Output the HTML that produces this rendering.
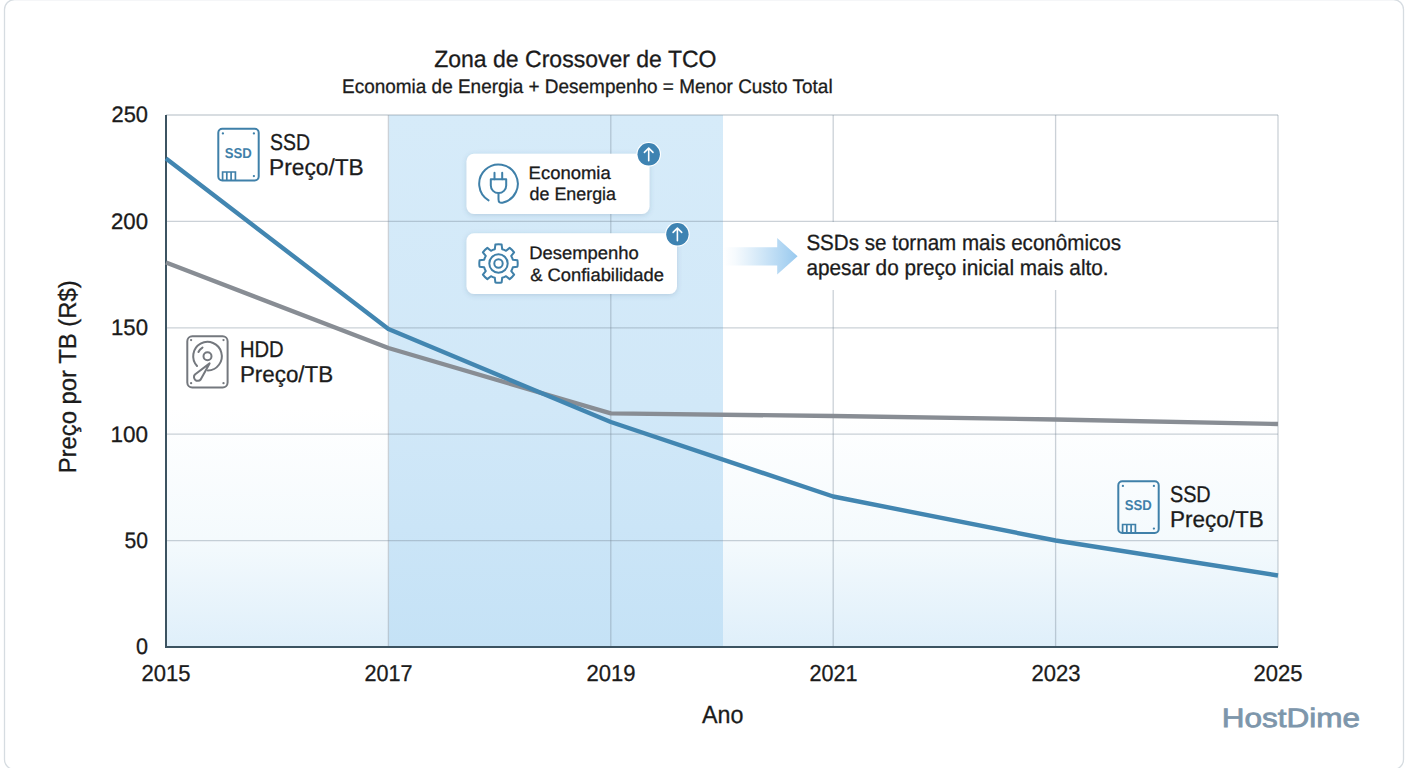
<!DOCTYPE html>
<html><head><meta charset="utf-8"><title>Zona de Crossover de TCO</title>
<style>
html,body{margin:0;padding:0;background:#ffffff;}
body{width:1408px;height:768px;overflow:hidden;position:relative;font-family:"Liberation Sans", sans-serif;}
svg{position:absolute;left:0;top:0;display:block;}
</style></head><body>
<svg width="1408" height="768" viewBox="0 0 1408 768" text-rendering="geometricPrecision">
<defs>
  <linearGradient id="plotbg" x1="0" y1="0" x2="0" y2="1">
    <stop offset="0" stop-color="#ffffff"/>
    <stop offset="0.55" stop-color="#ffffff"/>
    <stop offset="0.8" stop-color="#f4fafd"/>
    <stop offset="1" stop-color="#dfeffa"/>
  </linearGradient>
  <linearGradient id="zone" x1="0" y1="0" x2="0" y2="1">
    <stop offset="0" stop-color="#d6ebf9"/>
    <stop offset="0.55" stop-color="#d1e8f8"/>
    <stop offset="1" stop-color="#c5e2f6"/>
  </linearGradient>
  <linearGradient id="arrowg" x1="0" y1="0" x2="1" y2="0">
    <stop offset="0" stop-color="#a3cff0" stop-opacity="0"/>
    <stop offset="0.15" stop-color="#a3cff0" stop-opacity="0.1"/>
    <stop offset="1" stop-color="#98c9ef" stop-opacity="1"/>
  </linearGradient>
  <filter id="shadow" x="-20%" y="-30%" width="140%" height="160%">
    <feDropShadow dx="0" dy="1.2" stdDeviation="2.4" flood-color="#3a5a78" flood-opacity="0.2"/>
  </filter>
</defs>

<rect x="4.5" y="-0.4" width="1399" height="769.8" rx="10" fill="#ffffff" stroke="#d6dce1" stroke-width="1.3"/>
<rect x="166" y="115" width="1112" height="532" fill="url(#plotbg)"/>
<rect x="389" y="115" width="334" height="532" fill="url(#zone)"/>
<line x1="166" y1="540.6" x2="1278" y2="540.6" stroke="rgba(118,134,150,0.38)" stroke-width="1.3"/>
<line x1="166" y1="434.2" x2="1278" y2="434.2" stroke="rgba(118,134,150,0.38)" stroke-width="1.3"/>
<line x1="166" y1="327.8" x2="1278" y2="327.8" stroke="rgba(118,134,150,0.38)" stroke-width="1.3"/>
<line x1="166" y1="221.4" x2="1278" y2="221.4" stroke="rgba(118,134,150,0.38)" stroke-width="1.3"/>
<line x1="166" y1="115.0" x2="1278" y2="115.0" stroke="rgba(118,134,150,0.38)" stroke-width="1.3"/>
<line x1="388.4" y1="115" x2="388.4" y2="647" stroke="rgba(118,134,150,0.38)" stroke-width="1.3"/>
<line x1="610.8" y1="115" x2="610.8" y2="647" stroke="rgba(118,134,150,0.38)" stroke-width="1.3"/>
<line x1="833.2" y1="115" x2="833.2" y2="647" stroke="rgba(118,134,150,0.38)" stroke-width="1.3"/>
<line x1="1055.6" y1="115" x2="1055.6" y2="647" stroke="rgba(118,134,150,0.38)" stroke-width="1.3"/>
<line x1="1278.0" y1="115" x2="1278.0" y2="647" stroke="rgba(118,134,150,0.38)" stroke-width="1.3"/>
<rect x="790" y="222" width="370" height="68" fill="#ffffff"/>
<path d="M724,247.3 H777.2 V238 L797.6,256.3 L777.2,274.6 V265.6 H724 Z" fill="url(#arrowg)"/>
<line x1="166" y1="115" x2="166" y2="648" stroke="#3c5361" stroke-width="2"/>
<line x1="165" y1="647" x2="1278" y2="647" stroke="#3c5361" stroke-width="2"/>
<polyline points="166.0,262.5 388.4,348.0 610.8,413.4 833.2,416.0 1055.6,419.5 1278.0,424.0" fill="none" stroke="#888d94" stroke-width="4.4" stroke-linejoin="round"/>
<polyline points="166.0,158.5 388.4,329.0 610.8,422.0 833.2,496.5 1055.6,540.5 1278.0,575.5" fill="none" stroke="#4286b1" stroke-width="4.4" stroke-linejoin="round"/>
<g transform="translate(217.3,127.8)" fill="none" stroke="#3f80a9" stroke-width="2">
  <rect x="1" y="1" width="40.4" height="51.6" rx="4"/>
  <path d="M5.3,52.6 V44.2 H18.1 V52.6 M9.5,44.2 V52.6 M13.8,44.2 V52.6" stroke-width="1.7"/>
  <circle cx="5.6" cy="5.6" r="1.15" fill="#3f80a9" stroke="none"/>
  <circle cx="36.6" cy="5.6" r="1.15" fill="#3f80a9" stroke="none"/>
  <circle cx="36.6" cy="48.3" r="1.15" fill="#3f80a9" stroke="none"/>
  <text x="7.5" y="30" font-family='"Liberation Sans", sans-serif' font-weight="bold" font-size="14.2" fill="#3f80a9" stroke="none" textLength="27" lengthAdjust="spacingAndGlyphs">SSD</text>
</g>
<g transform="translate(186,335)" fill="none" stroke="#74787e" stroke-width="2" stroke-linecap="round" stroke-linejoin="round">
  <rect x="1.3" y="1.2" width="40.3" height="51.2" rx="5"/>
  <circle cx="5.1" cy="5.1" r="1.15" fill="#74787e" stroke="none"/>
  <circle cx="37.5" cy="5.1" r="1.15" fill="#74787e" stroke="none"/>
  <circle cx="5.1" cy="48.2" r="1.15" fill="#74787e" stroke="none"/>
  <circle cx="37.5" cy="48.2" r="1.15" fill="#74787e" stroke="none"/>
  <path d="M11.04,30.95 A14.3,14.3 0 1 1 21.87,35.5"/>
  <circle cx="21.5" cy="21.2" r="4"/>
  <path d="M12.44,16.97 A10,10 0 0 1 16.5,12.54"/>
  <path d="M23.6,28.4 L14.67,44.49 A3.8,3.8 0 1 1 8.93,39.51 Z"/>
</g>
<g transform="translate(1117.3,480.3)" fill="none" stroke="#3f80a9" stroke-width="2">
  <rect x="1" y="1" width="40.4" height="51.6" rx="4"/>
  <path d="M5.3,52.6 V44.2 H18.1 V52.6 M9.5,44.2 V52.6 M13.8,44.2 V52.6" stroke-width="1.7"/>
  <circle cx="5.6" cy="5.6" r="1.15" fill="#3f80a9" stroke="none"/>
  <circle cx="36.6" cy="5.6" r="1.15" fill="#3f80a9" stroke="none"/>
  <circle cx="36.6" cy="48.3" r="1.15" fill="#3f80a9" stroke="none"/>
  <text x="7.5" y="30" font-family='"Liberation Sans", sans-serif' font-weight="bold" font-size="14.2" fill="#3f80a9" stroke="none" textLength="27" lengthAdjust="spacingAndGlyphs">SSD</text>
</g>
<rect x="466.5" y="153.7" width="183" height="60.3" rx="7.5" fill="#ffffff" filter="url(#shadow)"/>
<rect x="466.5" y="233.2" width="210.5" height="60.8" rx="7.5" fill="#ffffff" filter="url(#shadow)"/>
<g transform="translate(470,155)" fill="none" stroke="#3f80a9" stroke-width="2" stroke-linecap="round">
  <path d="M18.56,45.34 A19.3,19.3 0 1 1 32.51,47.68 Q28.5,48.6 28.5,44.2 V38"/>
  <path d="M20.8,24.3 H36.2 V30.4 A7.7,7.7 0 0 1 20.8,30.4 Z" stroke-linejoin="round"/>
  <path d="M24.5,17.8 V24.3 M32.2,17.8 V24.3"/>
</g>
<g transform="translate(470,235)" fill="none" stroke="#3f80a9" stroke-width="2" stroke-linejoin="round">
  <path d="M24.84,14.16 L25.35,9.56 A19.2,19.2 0 0 1 31.65,9.56 L32.16,14.16 A14.8,14.8 0 0 1 36.05,15.77 L39.66,12.88 A19.2,19.2 0 0 1 44.12,17.34 L41.23,20.95 A14.8,14.8 0 0 1 42.84,24.84 L47.44,25.35 A19.2,19.2 0 0 1 47.44,31.65 L42.84,32.16 A14.8,14.8 0 0 1 41.23,36.05 L44.12,39.66 A19.2,19.2 0 0 1 39.66,44.12 L36.05,41.23 A14.8,14.8 0 0 1 32.16,42.84 L31.65,47.44 A19.2,19.2 0 0 1 25.35,47.44 L24.84,42.84 A14.8,14.8 0 0 1 20.95,41.23 L17.34,44.12 A19.2,19.2 0 0 1 12.88,39.66 L15.77,36.05 A14.8,14.8 0 0 1 14.16,32.16 L9.56,31.65 A19.2,19.2 0 0 1 9.56,25.35 L14.16,24.84 A14.8,14.8 0 0 1 15.77,20.95 L12.88,17.34 A19.2,19.2 0 0 1 17.34,12.88 L20.95,15.77 A14.8,14.8 0 0 1 24.84,14.16 Z"/>
  <circle cx="28.5" cy="28.5" r="9.2"/>
  <circle cx="28.5" cy="28.5" r="4.2"/>
</g>
<g>
  <circle cx="648.7" cy="154.3" r="12.3" fill="#ffffff"/>
  <circle cx="648.7" cy="154.3" r="11.2" fill="#3e83b2"/>
  <path d="M648.7,160.70000000000002 V148.10000000000002 M644.4000000000001,152.4 L648.7,148.10000000000002 L653.0,152.4" fill="none" stroke="#fff" stroke-width="1.6" stroke-linecap="round" stroke-linejoin="round"/>
</g>
<g>
  <circle cx="677.4" cy="234.3" r="12.3" fill="#ffffff"/>
  <circle cx="677.4" cy="234.3" r="11.2" fill="#3e83b2"/>
  <path d="M677.4,240.70000000000002 V228.10000000000002 M673.1,232.4 L677.4,228.10000000000002 L681.6999999999999,232.4" fill="none" stroke="#fff" stroke-width="1.6" stroke-linecap="round" stroke-linejoin="round"/>
</g>
<text transform="translate(75.7,376.80) rotate(-90)" x="0" y="0" text-anchor="middle" font-family='"Liberation Sans", sans-serif' font-size="24.6" fill="#1b1b1b" stroke="#1b1b1b" stroke-width="0.3" textLength="193.00" lengthAdjust="spacingAndGlyphs">Preço por TB (R$)</text>
<text x="434.20" y="66.8" font-family='"Liberation Sans", sans-serif' font-size="23.5" font-weight="normal" fill="#1b1b1b" stroke="#1b1b1b" stroke-width="0.3" textLength="282.30" lengthAdjust="spacingAndGlyphs">Zona de Crossover de TCO</text>
<text x="342.10" y="92.6" font-family='"Liberation Sans", sans-serif' font-size="19.6" font-weight="normal" fill="#1b1b1b" stroke="#1b1b1b" stroke-width="0.3" textLength="490.50" lengthAdjust="spacingAndGlyphs">Economia de Energia + Desempenho = Menor Custo Total</text>
<text x="702.10" y="722.8" font-family='"Liberation Sans", sans-serif' font-size="24.8" font-weight="normal" fill="#1b1b1b" stroke="#1b1b1b" stroke-width="0.3" textLength="41.40" lengthAdjust="spacingAndGlyphs">Ano</text>
<text x="1221.80" y="727.2" font-family='"Liberation Sans", sans-serif' font-size="26.6" font-weight="normal" fill="#7d96ab" stroke="#7d96ab" stroke-width="0.75" textLength="138.30" lengthAdjust="spacingAndGlyphs">HostDime</text>
<text x="270.10" y="149.7" font-family='"Liberation Sans", sans-serif' font-size="23" font-weight="normal" fill="#1b1b1b" stroke="#1b1b1b" stroke-width="0.3" textLength="40.00" lengthAdjust="spacingAndGlyphs">SSD</text>
<text x="269.10" y="174.9" font-family='"Liberation Sans", sans-serif' font-size="23" font-weight="normal" fill="#1b1b1b" stroke="#1b1b1b" stroke-width="0.3" textLength="94.60" lengthAdjust="spacingAndGlyphs">Preço/TB</text>
<text x="239.90" y="356.6" font-family='"Liberation Sans", sans-serif' font-size="23" font-weight="normal" fill="#1b1b1b" stroke="#1b1b1b" stroke-width="0.3" textLength="43.80" lengthAdjust="spacingAndGlyphs">HDD</text>
<text x="239.90" y="381.6" font-family='"Liberation Sans", sans-serif' font-size="23" font-weight="normal" fill="#1b1b1b" stroke="#1b1b1b" stroke-width="0.3" textLength="93.30" lengthAdjust="spacingAndGlyphs">Preço/TB</text>
<text x="1169.90" y="502.4" font-family='"Liberation Sans", sans-serif' font-size="23" font-weight="normal" fill="#1b1b1b" stroke="#1b1b1b" stroke-width="0.3" textLength="40.80" lengthAdjust="spacingAndGlyphs">SSD</text>
<text x="1169.90" y="527.2" font-family='"Liberation Sans", sans-serif' font-size="23" font-weight="normal" fill="#1b1b1b" stroke="#1b1b1b" stroke-width="0.3" textLength="93.80" lengthAdjust="spacingAndGlyphs">Preço/TB</text>
<text x="528.60" y="178.9" font-family='"Liberation Sans", sans-serif' font-size="18" font-weight="normal" fill="#1b1b1b" stroke="#1b1b1b" stroke-width="0.3" textLength="82.10" lengthAdjust="spacingAndGlyphs">Economia</text>
<text x="529.60" y="200.3" font-family='"Liberation Sans", sans-serif' font-size="18" font-weight="normal" fill="#1b1b1b" stroke="#1b1b1b" stroke-width="0.3" textLength="86.40" lengthAdjust="spacingAndGlyphs">de Energia</text>
<text x="529.20" y="258.9" font-family='"Liberation Sans", sans-serif' font-size="18" font-weight="normal" fill="#1b1b1b" stroke="#1b1b1b" stroke-width="0.3" textLength="109.60" lengthAdjust="spacingAndGlyphs">Desempenho</text>
<text x="530.20" y="280.5" font-family='"Liberation Sans", sans-serif' font-size="18" font-weight="normal" fill="#1b1b1b" stroke="#1b1b1b" stroke-width="0.3" textLength="133.80" lengthAdjust="spacingAndGlyphs">&amp; Confiabilidade</text>
<text x="806.40" y="249.8" font-family='"Liberation Sans", sans-serif' font-size="22" font-weight="normal" fill="#1b1b1b" stroke="#1b1b1b" stroke-width="0.3" textLength="314.60" lengthAdjust="spacingAndGlyphs">SSDs se tornam mais econômicos</text>
<text x="806.40" y="274.5" font-family='"Liberation Sans", sans-serif' font-size="22" font-weight="normal" fill="#1b1b1b" stroke="#1b1b1b" stroke-width="0.3" textLength="302.20" lengthAdjust="spacingAndGlyphs">apesar do preço inicial mais alto.</text>
<text x="136.00" y="654.3" font-family='"Liberation Sans", sans-serif' font-size="22.4" font-weight="normal" fill="#1b1b1b" stroke="#1b1b1b" stroke-width="0.3" textLength="12.00" lengthAdjust="spacingAndGlyphs">0</text>
<text x="124.50" y="547.9" font-family='"Liberation Sans", sans-serif' font-size="22.4" font-weight="normal" fill="#1b1b1b" stroke="#1b1b1b" stroke-width="0.3" textLength="23.50" lengthAdjust="spacingAndGlyphs">50</text>
<text x="110.50" y="441.5" font-family='"Liberation Sans", sans-serif' font-size="22.4" font-weight="normal" fill="#1b1b1b" stroke="#1b1b1b" stroke-width="0.3" textLength="37.50" lengthAdjust="spacingAndGlyphs">100</text>
<text x="111.00" y="335.1" font-family='"Liberation Sans", sans-serif' font-size="22.4" font-weight="normal" fill="#1b1b1b" stroke="#1b1b1b" stroke-width="0.3" textLength="37.00" lengthAdjust="spacingAndGlyphs">150</text>
<text x="111.00" y="228.7" font-family='"Liberation Sans", sans-serif' font-size="22.4" font-weight="normal" fill="#1b1b1b" stroke="#1b1b1b" stroke-width="0.3" textLength="37.00" lengthAdjust="spacingAndGlyphs">200</text>
<text x="111.50" y="122.3" font-family='"Liberation Sans", sans-serif' font-size="22.4" font-weight="normal" fill="#1b1b1b" stroke="#1b1b1b" stroke-width="0.3" textLength="36.50" lengthAdjust="spacingAndGlyphs">250</text>
<text x="141.50" y="680.5" font-family='"Liberation Sans", sans-serif' font-size="23" font-weight="normal" fill="#1b1b1b" stroke="#1b1b1b" stroke-width="0.3" textLength="49.00" lengthAdjust="spacingAndGlyphs">2015</text>
<text x="364.50" y="680.5" font-family='"Liberation Sans", sans-serif' font-size="23" font-weight="normal" fill="#1b1b1b" stroke="#1b1b1b" stroke-width="0.3" textLength="48.00" lengthAdjust="spacingAndGlyphs">2017</text>
<text x="586.50" y="680.5" font-family='"Liberation Sans", sans-serif' font-size="23" font-weight="normal" fill="#1b1b1b" stroke="#1b1b1b" stroke-width="0.3" textLength="49.00" lengthAdjust="spacingAndGlyphs">2019</text>
<text x="809.50" y="680.5" font-family='"Liberation Sans", sans-serif' font-size="23" font-weight="normal" fill="#1b1b1b" stroke="#1b1b1b" stroke-width="0.3" textLength="48.00" lengthAdjust="spacingAndGlyphs">2021</text>
<text x="1031.50" y="680.5" font-family='"Liberation Sans", sans-serif' font-size="23" font-weight="normal" fill="#1b1b1b" stroke="#1b1b1b" stroke-width="0.3" textLength="49.00" lengthAdjust="spacingAndGlyphs">2023</text>
<text x="1253.50" y="680.5" font-family='"Liberation Sans", sans-serif' font-size="23" font-weight="normal" fill="#1b1b1b" stroke="#1b1b1b" stroke-width="0.3" textLength="49.00" lengthAdjust="spacingAndGlyphs">2025</text>
</svg>
</body></html>
